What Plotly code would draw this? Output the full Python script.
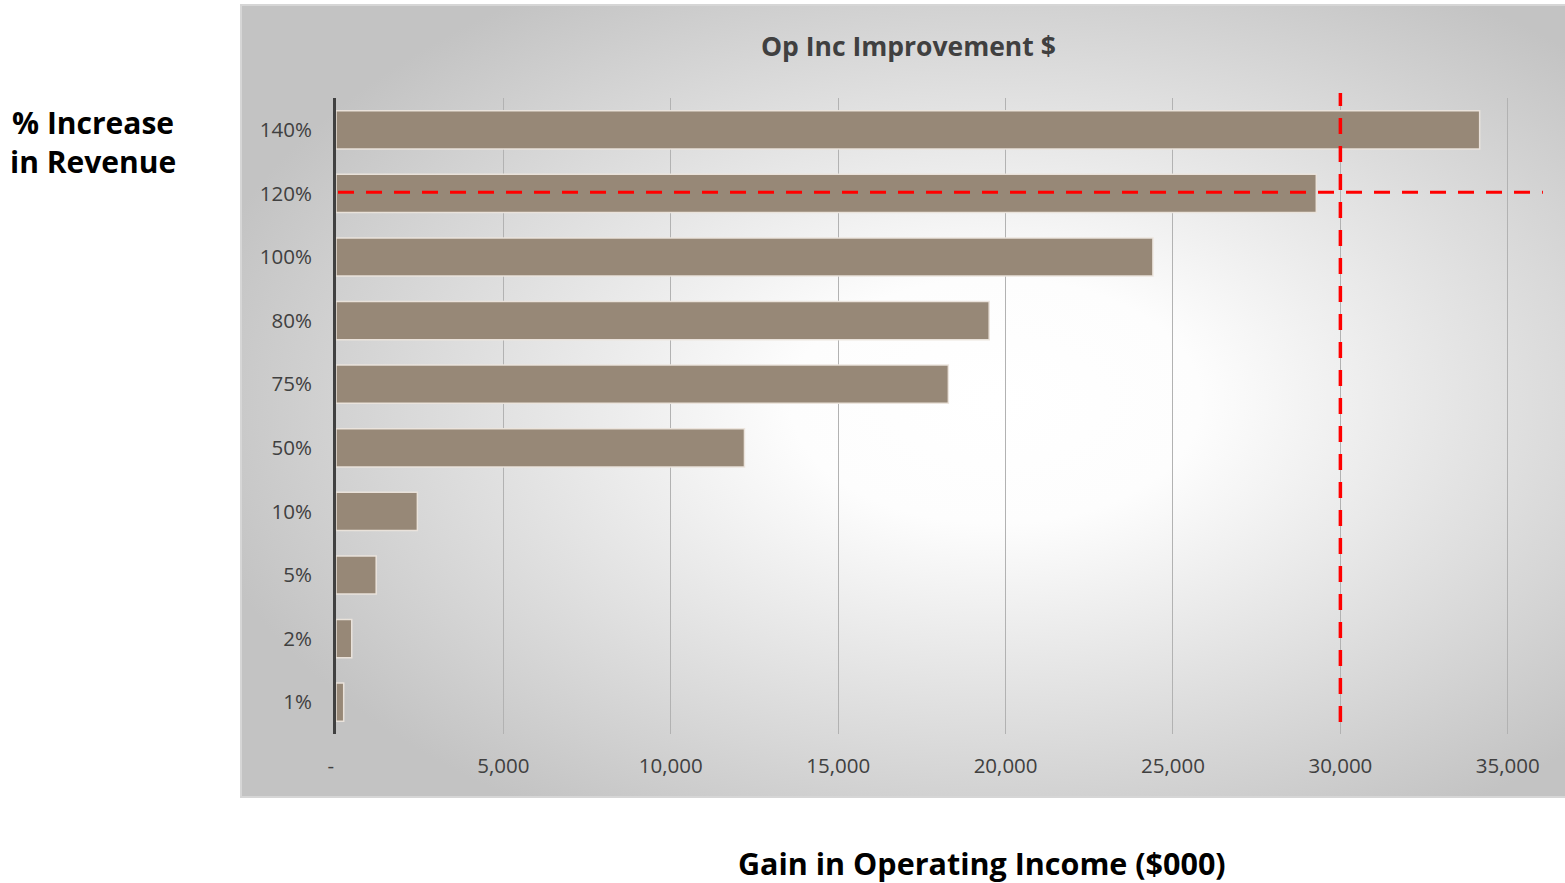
import base64
import plotly.graph_objects as go

# Revenue increase scenarios (bottom to top) and resulting operating income gain ($000)
categories = ["1%", "2%", "5%", "10%", "50%", "75%", "80%", "100%", "120%", "140%"]
gain = [230, 470, 1200, 2430, 12200, 18290, 19510, 24400, 29280, 34160]

x_ticks = [0, 5000, 10000, 15000, 20000, 25000, 30000, 35000]
x_tick_text = ["-  ", "5,000", "10,000", "15,000", "20,000", "25,000", "30,000", "35,000"]

target_gain = 30000
target_category = "120%"

W, H = 1565, 883
L, R, T, B = 336, 7, 98, 149
plot_w = W - L - R
plot_h = H - T - B

# Chart-area panel (pixels) with a soft radial gradient
panel_x0, panel_y0, panel_x1, panel_y1 = 241, 5, 1565, 797
pw, ph = panel_x1 - panel_x0, panel_y1 - panel_y0
svg = (
    f"<svg xmlns='http://www.w3.org/2000/svg' width='{pw}' height='{ph}'>"
    "<defs><radialGradient id='g' cx='0.57' cy='0.5' r='0.62'>"
    "<stop offset='0' stop-color='#ffffff'/>"
    "<stop offset='0.25' stop-color='#fdfdfd'/>"
    "<stop offset='1' stop-color='#c3c3c3'/>"
    "</radialGradient></defs>"
    f"<rect width='{pw}' height='{ph}' fill='url(#g)'/></svg>"
)
svg_uri = "data:image/svg+xml;base64," + base64.b64encode(svg.encode()).decode()


def px_to_paper_x(px):
    return (px - L) / plot_w


def px_to_paper_y(py):
    return (H - B - py) / plot_h


fig = go.Figure()
fig.add_trace(
    go.Bar(
        x=gain,
        y=categories,
        orientation="h",
        width=0.6,
        marker=dict(color="#978877", line=dict(color="rgba(236,229,221,0.95)", width=1.5)),
        hoverinfo="x+y",
    )
)

tick_font = dict(family="Open Sans, sans-serif", size=20.5, color="#404040")

fig.update_layout(
    width=W,
    height=H,
    margin=dict(l=L, r=R, t=T, b=B, pad=0),
    paper_bgcolor="white",
    plot_bgcolor="rgba(0,0,0,0)",
    showlegend=False,
    bargap=0.4,
    xaxis=dict(
        range=[0, 36500],
        tickvals=x_ticks,
        ticktext=x_tick_text,
        tickfont=tick_font,
        showgrid=True,
        gridcolor="#b2b2b2",
        gridwidth=1,
        zeroline=False,
        showline=False,
        ticks="",
        ticklabelstandoff=17,
    ),
    yaxis=dict(
        categoryorder="array",
        categoryarray=categories,
        range=[-0.5, 9.5],
        tickfont=tick_font,
        showgrid=False,
        zeroline=False,
        showline=True,
        linecolor="#404040",
        linewidth=3,
        ticks="",
        ticklabelstandoff=17,
    ),
    images=[
        dict(
            source=svg_uri,
            xref="paper",
            yref="paper",
            x=px_to_paper_x(panel_x0),
            y=px_to_paper_y(panel_y0),
            sizex=pw / plot_w,
            sizey=ph / plot_h,
            xanchor="left",
            yanchor="top",
            sizing="stretch",
            layer="below",
        )
    ],
)

# Panel outline
fig.add_shape(
    type="rect",
    xref="paper",
    yref="paper",
    x0=px_to_paper_x(panel_x0),
    x1=px_to_paper_x(panel_x1) + 0.01,
    y0=px_to_paper_y(panel_y1),
    y1=px_to_paper_y(panel_y0),
    line=dict(color="#d6d6d6", width=2),
    fillcolor="rgba(0,0,0,0)",
    layer="below",
)

# Target reference lines
fig.add_shape(
    type="line",
    xref="x",
    yref="paper",
    x0=target_gain,
    x1=target_gain,
    y0=px_to_paper_y(722),
    y1=px_to_paper_y(93),
    line=dict(color="#ff0000", width=3.5, dash="16px,12px"),
)
target_idx = categories.index(target_category)
fig.add_shape(
    type="line",
    xref="x",
    yref="y",
    x0=60,
    x1=36050,
    y0=target_idx + 0.02,
    y1=target_idx + 0.02,
    line=dict(color="#ff0000", width=3, dash="16px,12px"),
)

# Titles
fig.add_annotation(
    text="Op Inc Improvement $",
    xref="paper",
    yref="paper",
    x=px_to_paper_x(908),
    y=px_to_paper_y(46),
    showarrow=False,
    font=dict(family="Open Sans, sans-serif", size=26.5, color="#404040", weight="bold"),
    xanchor="center",
    yanchor="middle",
)
fig.add_annotation(
    text="% Increase<br>in Revenue",
    xref="paper",
    yref="paper",
    x=px_to_paper_x(93),
    y=px_to_paper_y(142),
    showarrow=False,
    align="center",
    font=dict(family="Open Sans, sans-serif", size=30, color="#000000", weight="bold"),
    xanchor="center",
    yanchor="middle",
)
fig.add_annotation(
    text="Gain in Operating Income ($000)",
    xref="paper",
    yref="paper",
    x=px_to_paper_x(982),
    y=px_to_paper_y(863),
    showarrow=False,
    font=dict(family="Open Sans, sans-serif", size=30.5, color="#000000", weight="bold"),
    xanchor="center",
    yanchor="middle",
)

fig.write_html("out.html")
